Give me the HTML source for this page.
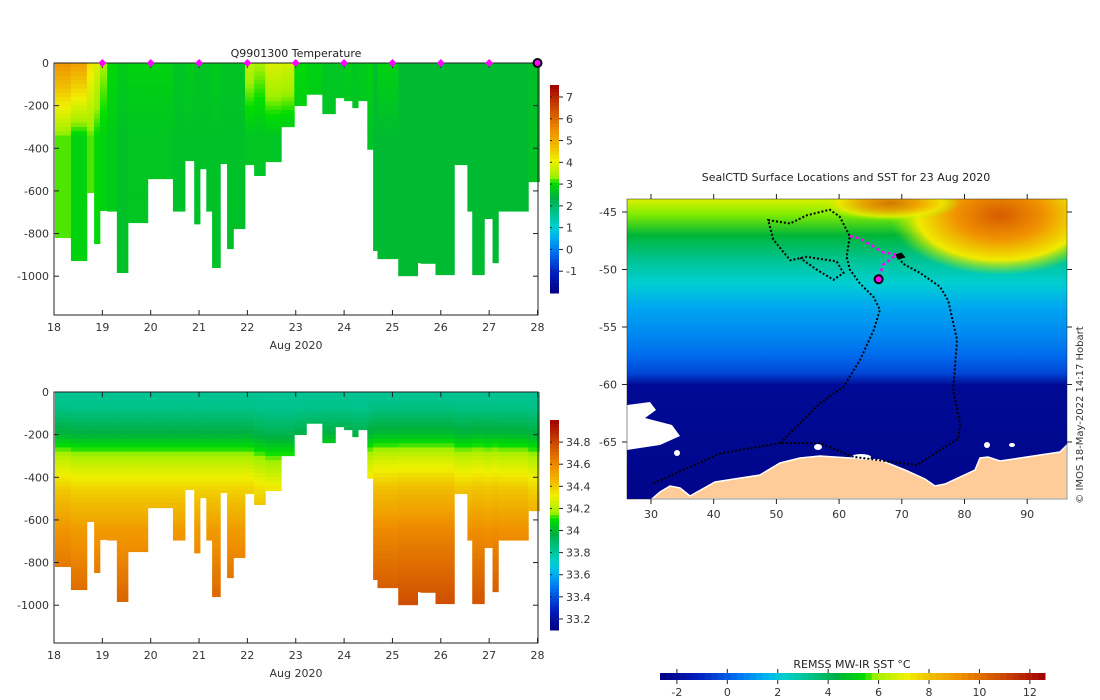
<!DOCTYPE html>
<html><head><meta charset="utf-8"><style>
body{margin:0;background:#fff;width:1100px;height:700px;overflow:hidden}
svg{display:block;font-family:"DejaVu Sans","Liberation Sans",sans-serif;font-size:11px}
</style></head><body>
<svg id="fig" width="1100" height="700" xmlns="http://www.w3.org/2000/svg">
<g id="g-temp"></g>
<g id="g-sal"></g>
<g id="g-map"></g>
</svg>
<script>
// profile columns: start day offset from 18 Aug, max depth (m)
const colStart=[0.02,0.35,0.68,0.83,0.95,1.10,1.30,1.53,1.94,2.46,2.71,2.90,3.02,3.15,3.27,3.44,3.58,3.71,3.95,4.14,4.37,4.70,4.97,5.22,5.55,5.82,6.00,6.17,6.29,6.48,6.60,6.69,7.12,7.52,7.58,7.89,8.28,8.55,8.65,8.90,9.07,9.19,9.81];
const colEnd=10.04;
const colDepth=[819,927,608,847,692,695,983,749,543,695,458,755,496,695,960,472,871,777,477,528,463,299,200,147,238,163,177,210,177,405,880,918,998,937,940,993,477,695,993,730,937,695,557];
const surfT=[5.4,5.2,4.3,3.9,3.4,3.0,2.8,2.9,2.9,2.7,2.8,2.7,2.7,2.7,2.8,2.7,2.7,2.7,3.6,3.4,3.9,3.8,3.0,2.9,2.7,2.7,2.8,2.7,2.8,2.9,2.6,2.9,2.55,2.55,2.55,2.55,2.55,2.55,2.55,2.55,2.55,2.55,2.6];
const deepT=[3.2,2.9,3.2,3.0,2.9,2.8,2.65,2.7,2.7,2.65,2.65,2.65,2.65,2.65,2.65,2.65,2.65,2.65,2.7,2.7,2.7,2.7,2.8,2.75,2.7,2.7,2.7,2.7,2.7,2.7,2.55,2.55,2.55,2.55,2.55,2.55,2.55,2.55,2.55,2.55,2.55,2.55,2.65];
const salOffset=[0.02,0,0,0,0,0,0,0,0,0,0,0,0,0,0,0,0,0,0,-0.03,-0.05,-0.05,-0.02,0,0,0,0,-0.03,-0.03,0.02,0.05,0.05,0.06,0.06,0.06,0.06,0.03,0.03,0.04,0.03,0.04,0.03,0];
const salDepthKnots=[0,80,200,300,450,650,1000];
const salKnots=[33.82,33.85,33.98,34.18,34.38,34.55,34.72];
const markerDays=[1,2,3,4,5,6,7,8,9];
const lastDay=10;
const tempTicks=[7,6,5,4,3,2,1,0,-1];
const salTicks=[34.8,34.6,34.4,34.2,34,33.8,33.6,33.4,33.2];
const sstTicks=[-2,0,2,4,6,8,10,12];
const depthTicks=[0,-200,-400,-600,-800,-1000];
const dayTicks=[18,19,20,21,22,23,24,25,26,27,28];
const lonTicks=[30,40,50,60,70,80,90];
const latTicks=[-45,-50,-55,-60,-65];
// track lon/lat
const trackLon=[30.4,41.0,50.6,57.0,62.3,72.4,79.0,79.3,78.2,78.8,77.4,76.1,72.9,70.2,69.2];
const trackLat=[-68.6,-66.0,-65.1,-65.1,-66.3,-67.0,-64.7,-63.4,-60.5,-56.1,-52.7,-51.5,-50.3,-49.5,-48.7];
const track2Lon=[50.6,57.0,60.7,63.3,65.5,66.5,65.5,63.3,61.7,61.2,61.7,60.1,58.5,54.8,52.2,48.7,49.5,52.2,54.8,59.6,60.7,59.1,56.4,53.8];
const track2Lat=[-65.1,-61.6,-60.2,-57.9,-55.3,-53.5,-52.4,-51.2,-50.0,-48.9,-47.1,-45.4,-44.8,-45.3,-46.0,-45.7,-47.4,-49.2,-48.9,-49.3,-50.3,-50.9,-50.0,-49.0];
const recentLon=[61.7,63.3,67.0,69.2,67.0,66.3];
const recentLat=[-47.1,-47.3,-48.5,-48.7,-49.6,-50.85];

const NS='http://www.w3.org/2000/svg';
function el(tag,attrs,parent,text){const e=document.createElementNS(NS,tag);for(const k in attrs)e.setAttribute(k,attrs[k]);if(text!==undefined)e.textContent=text;parent.appendChild(e);return e;}
const stops=[[0,[0,0,128]],[0.1,[0,32,192]],[0.2,[0,112,240]],[0.27,[0,176,240]],[0.32,[0,208,208]],[0.4,[0,192,128]],[0.46,[0,176,64]],[0.53,[0,221,0]],[0.56,[160,240,0]],[0.64,[240,240,0]],[0.70,[240,192,0]],[0.78,[240,144,0]],[0.88,[208,80,0]],[1,[160,0,0]]];
function cmap(f){f=Math.max(0,Math.min(1,f));for(let i=1;i<stops.length;i++){if(f<=stops[i][0]){const a=stops[i-1],b=stops[i];const t=(f-a[0])/(b[0]-a[0]);const c=a[1].map((v,j)=>Math.round(v+(b[1][j]-v)*t));return 'rgb('+c.join(',')+')';}}return 'rgb(160,0,0)';}
function interp(x,xs,ys){if(x<=xs[0])return ys[0];for(let i=1;i<xs.length;i++)if(x<=xs[i])return ys[i-1]+(ys[i]-ys[i-1])*(x-xs[i-1])/(xs[i]-xs[i-1]);return ys[ys.length-1];}

function panel(g,top,bottomY,varFn,vmin,vmax,ticks,cbTop,cbBot,title){
  const xS=d=>54+d*48.35, yS=z=>top+z*0.2132;
  for(let i=0;i<colStart.length;i++){
    const x0=xS(colStart[i]),x1=xS(i+1<colStart.length?colStart[i+1]:colEnd);
    for(let z=0;z<colDepth[i];z+=20){
      const h=Math.min(20,colDepth[i]-z);
      const r=el('rect',{x:x0.toFixed(2),y:yS(z).toFixed(2),width:(x1-x0+0.4).toFixed(2),height:(h*0.2132+0.4).toFixed(2),fill:cmap((varFn(i,z+10)-vmin)/(vmax-vmin))},g);
      
      
    }
  }
  const fr=el('rect',{x:54,y:top,width:484,height:bottomY-top,fill:'none',stroke:'#222','stroke-width':1},g);
  
  depthTicks.forEach(v=>{const y=yS(-v);
    el('line',{x1:54,x2:59,y1:y,y2:y,stroke:'#222'},g);el('line',{x1:533,x2:538,y1:y,y2:y,stroke:'#222'},g);
    const t=el('text',{x:49,y:y+4,'text-anchor':'end',fill:'#333'},g,String(v));
    });
  dayTicks.forEach(d=>{const x=xS(d-18);
    el('line',{x1:x,x2:x,y1:bottomY,y2:bottomY-5,stroke:'#222'},g);el('line',{x1:x,x2:x,y1:top,y2:top+5,stroke:'#222'},g);
    const t=el('text',{x:x,y:bottomY+16,'text-anchor':'middle',fill:'#333'},g,String(d));
    });
  const xl=el('text',{x:296,y:bottomY+34,'text-anchor':'middle',fill:'#333'},g,'Aug 2020');
  
  const n=60;const pxPer=(cbBot-cbTop)/(vmax-vmin);
  for(let k=0;k<n;k++){const f=(k+0.5)/n;const r=el('rect',{x:550,y:(cbBot-(k+1)*(cbBot-cbTop)/n).toFixed(2),width:9,height:((cbBot-cbTop)/n+0.5).toFixed(2),fill:cmap(f)},g);
    }
  ticks.forEach(v=>{const y=cbBot-(v-vmin)*pxPer;
    el('line',{x1:559,x2:563,y1:y,y2:y,stroke:'#222'},g);el('line',{x1:550,x2:552,y1:y,y2:y,stroke:'#222'},g);
    const t=el('text',{x:566,y:y+4,fill:'#333'},g,String(v));
    });
  if(title){const t=el('text',{x:296,y:57,'text-anchor':'middle',fill:'#222','xml:space':'preserve'},g,title);
    
    markerDays.forEach(d=>{const m=el('path',{d:`M${xS(d)} ${top-4} l4 4 l-4 4 l-4 -4z`,fill:'#ff00ff'},g);
      });
    const c=el('circle',{cx:xS(lastDay),cy:top,r:4,fill:'#ff00ff',stroke:'#000','stroke-width':2},g);
    }
}
panel(document.getElementById('g-temp'),63,315,(i,z)=>surfT[i]+(deepT[i]-surfT[i])*Math.min(1,z/350),-2.0,7.55,tempTicks,85,293,'Q9901300  Temperature');
panel(document.getElementById('g-sal'),392,643,(i,z)=>interp(z,salDepthKnots,salKnots)+salOffset[i]*Math.min(1,z/300),33.1,35.0,salTicks,420,630,null);

// map
const gm=document.getElementById('g-map');
const lonX=l=>651+(l-30)*6.27, latY=a=>212+(-45-a)*11.5;
const defs=el('defs',{},gm);
const cp=el('clipPath',{id:'mapclip'},defs);el('rect',{x:627,y:199,width:440,height:300},cp);
const sstMin=-2.67,sstMax=12.6;
const lg=el('linearGradient',{id:'sstv',x1:0,y1:0,x2:0,y2:1},defs);
[[0,6.8],[0.05,5.8],[0.12,4.5],[0.2,3.2],[0.28,2.2],[0.36,1.3],[0.45,0.8],[0.52,0.3],[0.58,-0.4],[0.62,-2.2],[1,-2.4]].forEach(s=>el('stop',{offset:s[0],'stop-color':cmap((s[1]-sstMin)/(sstMax-sstMin))},lg));
const rg=el('radialGradient',{id:'warm',cx:0.5,cy:0.5,r:0.5},defs);
[[0,10.5],[0.4,9.2],[0.75,7.2],[1,6]].forEach((s,i)=>el('stop',{offset:s[0],'stop-color':cmap((s[1]-sstMin)/(sstMax-sstMin)),'stop-opacity':i==3?0:1},rg));
const mg=el('g',{'clip-path':'url(#mapclip)'},gm);

const bg=el('rect',{x:627,y:199,width:440,height:300,fill:'url(#sstv)'},mg);

const w=el('ellipse',{cx:1000,cy:215,rx:110,ry:60,fill:'url(#warm)'},mg);

const w2=el('ellipse',{cx:890,cy:203,rx:70,ry:18,fill:'url(#warm)',opacity:0.8},mg);

const ice=el('path',{d:'M627 405 L650 402 L656 410 L645 418 L672 425 L680 436 L660 445 L627 450 Z',fill:'#fff'},mg);

[[818,447,4,3],[861,457,10,3],[987,445,3,3],[1012,445,3,2],[677,453,3,3]].forEach(e=>{const c=el('ellipse',{cx:e[0],cy:e[1],rx:e[2],ry:e[3],fill:'#fff'},mg);});
const land=el('path',{d:'M652 499 L660 492 L670 486 L680 488 L690 496 L715 482 L760 475 L780 463 L800 458 L820 456 L880 460 L905 470 L925 479 L935 486 L945 484 L960 477 L975 470 L980 458 L988 457 L1000 461 L1020 458 L1040 455 L1060 452 L1067 445 L1067 499 Z',fill:'#ffcc99',stroke:'#fff','stroke-width':1.5},mg);

function track(lons,lats,color,name,dash,wid){const pts=lons.map((l,i)=>lonX(l).toFixed(1)+','+latY(lats[i]).toFixed(1)).join(' ');
  const p=el('polyline',{points:pts,fill:'none',stroke:color,'stroke-width':wid,'stroke-dasharray':dash},mg);}
track(trackLon,trackLat,'#000','seal-track','2 2',2);
track(track2Lon,track2Lat,'#000','seal-track','2 2',2);
track(recentLon,recentLat,'#ff00ff','recent-track','3 3',2.5);
const cur=el('circle',{cx:lonX(recentLon[recentLon.length-1]),cy:latY(recentLat[recentLat.length-1]),r:4,fill:'#ff00ff',stroke:'#000','stroke-width':2},mg);

const kg=el('path',{d:`M${lonX(69)} ${latY(-48.7)} l6 -2 l4 5 l-8 2z`,fill:'#000'},mg);
const mf=el('rect',{x:627,y:199,width:440,height:300,fill:'none',stroke:'#222','stroke-width':0.5},gm);
lonTicks.forEach(l=>{const x=lonX(l);el('line',{x1:x,x2:x,y1:194,y2:199,stroke:'#222'},gm);el('line',{x1:x,x2:x,y1:499,y2:504,stroke:'#222'},gm);
  const t=el('text',{x:x,y:518,'text-anchor':'middle',fill:'#333'},gm,String(l));});
latTicks.forEach(a=>{const y=latY(a);el('line',{x1:622,x2:627,y1:y,y2:y,stroke:'#222'},gm);el('line',{x1:1067,x2:1072,y1:y,y2:y,stroke:'#222'},gm);
  const t=el('text',{x:617,y:y+4,'text-anchor':'end',fill:'#333'},gm,String(a));});
const mt=el('text',{x:846,y:181,'text-anchor':'middle',fill:'#222'},gm,'SealCTD Surface Locations and SST for 23 Aug 2020');
const cr=el('text',{x:0,y:0,'text-anchor':'middle',fill:'#333','font-size':'10px',transform:'translate(1083,415) rotate(-90)'},gm,'© IMOS 18-May-2022 14:17 Hobart');
const sx=v=>660+(v-sstMin)*(385/(sstMax-sstMin));
for(let k=0;k<60;k++){const r=el('rect',{x:(660+k*385/60).toFixed(2),y:673,width:(385/60+0.5).toFixed(2),height:7,fill:cmap((k+0.5)/60)},gm);
  }
sstTicks.forEach(v=>{const x=sx(v);el('line',{x1:x,x2:x,y1:669,y2:673,stroke:'#222'},gm);el('line',{x1:x,x2:x,y1:680,y2:684,stroke:'#222'},gm);
  const t=el('text',{x:x,y:696,'text-anchor':'middle',fill:'#333'},gm,String(v));});
const ct=el('text',{x:852,y:668,'text-anchor':'middle',fill:'#222'},gm,'REMSS MW-IR SST °C');
</script>
</body></html>
